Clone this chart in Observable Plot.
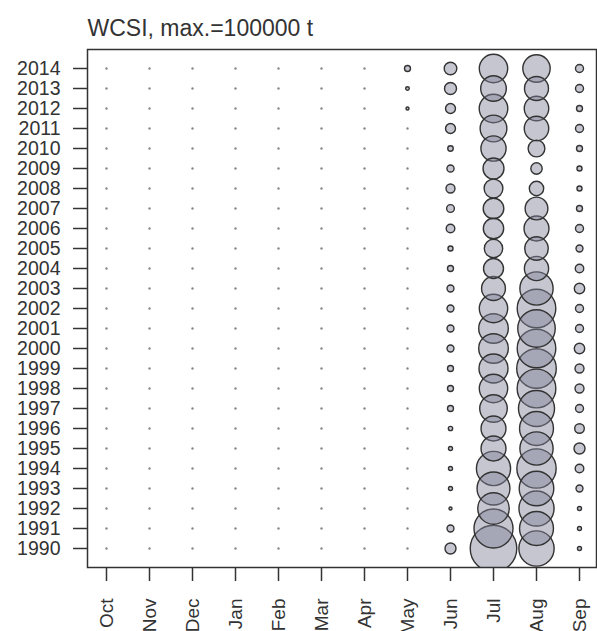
<!DOCTYPE html>
<html>
<head>
<meta charset="utf-8">
<script src="https://cdn.jsdelivr.net/npm/d3@7"></script>
<script src="https://cdn.jsdelivr.net/npm/@observablehq/plot@0.6"></script>
<style>
  html, body { margin: 0; padding: 0; background: #fff; overflow: hidden; }
</style>
</head>
<body>
<div id="chart"></div>
<script>
const title = "WCSI, max.=100000 t";
const months = ["Oct","Nov","Dec","Jan","Feb","Mar","Apr","May","Jun","Jul","Aug","Sep"];
const years = [2014,2013,2012,2011,2010,2009,2008,2007,2006,2005,2004,2003,2002,2001,2000,1999,1998,1997,1996,1995,1994,1993,1992,1991,1990];

// catch (t) per year, ordered as `years` (2014 -> 1990); months Oct-Apr are zero
const may = [1560,560,400,0,0,0,0,0,0,0,0,0,0,0,0,0,0,0,0,0,0,0,0,0,0];
const jun = [6900,6250,4300,4300,1300,2200,3500,2600,3200,1100,1560,2100,2100,2100,2100,1560,1560,1560,800,700,700,700,400,2100,5250];
const jul = [35000,28500,35500,31000,27500,19000,15300,18400,18000,14700,17400,24700,35000,38000,38000,36500,35000,33000,27000,27000,50700,47000,43000,66000,94000];
const aug = [32500,25000,26000,26000,12200,5600,9000,22500,27000,24000,25500,48000,64700,61000,64700,68000,65000,56500,50000,48000,67000,52000,53500,50000,54000];
const sep = [2800,2800,1560,2800,1560,1100,1100,1560,2800,2100,3100,4700,2800,2800,4700,3500,3500,2800,4000,5250,3200,2100,700,700,700];
const maxCatch = 100000;

const series = {May: may, Jun: jun, Jul: jul, Aug: aug, Sep: sep};
const zeros = [];
const bubbles = [];
for (const m of months) {
  years.forEach((y, i) => {
    const v = series[m] ? series[m][i] : 0;
    if (v > 0) bubbles.push({month: m, year: y, value: v});
    else zeros.push({month: m, year: y});
  });
}

const chart = Plot.plot({
  width: 597,
  height: 631,
  marginTop: 49,
  marginBottom: 64,
  marginLeft: 87,
  marginRight: 1,
  style: {fontFamily: "'Liberation Sans', Arial, sans-serif", color: "#333", background: "#fff"},
  x: {type: "point", domain: months, range: [104, 580], padding: 0, label: null},
  y: {type: "point", domain: years, range: [68, 548], padding: 0, label: null},
  r: {type: "sqrt", domain: [0, maxCatch], range: [0, 24]},
  marks: [
    Plot.dot(zeros, {x: "month", y: "year", r: 1.2, fill: "#888", stroke: null}),
    Plot.dot(bubbles, {x: "month", y: "year", r: "value", fill: "#7f8196", fillOpacity: 0.45, stroke: "#333", strokeWidth: 1.4, clip: "frame"}),
    Plot.frame({stroke: "#333", strokeWidth: 1.5}),
    Plot.axisY({tickSize: 14, tickPadding: 13, fontSize: 19.5, tickFormat: d => String(d), label: null, stroke: "#333", strokeWidth: 1.5}),
    Plot.axisX({tickSize: 14, tickPadding: 17, fontSize: 19, tickRotate: -90, label: null, stroke: "#333", strokeWidth: 1.5}),
    Plot.text([title], {text: d => d, frameAnchor: "top-left", dy: -14, lineAnchor: "bottom", textAnchor: "start", fontSize: 23, fill: "#333"})
  ]
});
document.getElementById("chart").appendChild(chart);
</script>
</body>
</html>
